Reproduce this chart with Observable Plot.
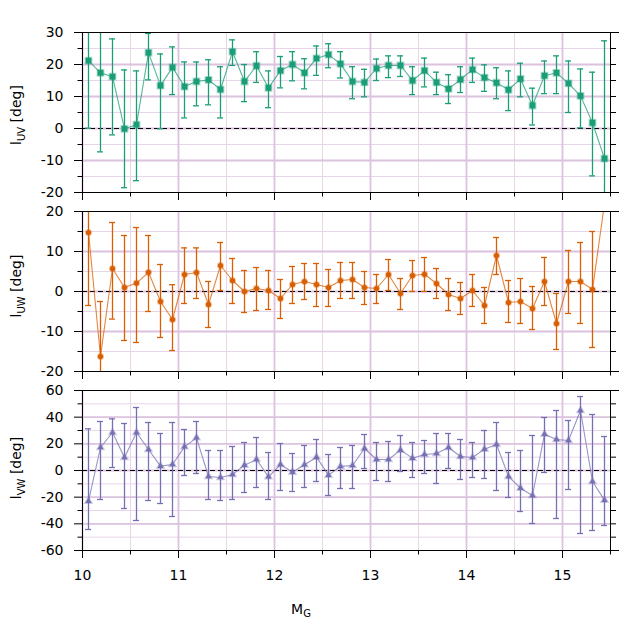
<!DOCTYPE html>
<html><head><meta charset="utf-8">
<script src="https://cdn.jsdelivr.net/npm/d3@7"></script>
<script src="https://cdn.jsdelivr.net/npm/@observablehq/plot@0.6"></script>
<style>
body{margin:0;background:#fff;}
#chart{width:640px;height:640px;position:relative;font-family:"DejaVu Sans";}
#chart svg{display:block;}
</style></head><body><div id="chart"></div>
<script>
const mag = [10.0625,10.1875,10.3125,10.4375,10.5625,10.6875,10.8125,10.9375,11.0625,11.1875,11.3125,11.4375,11.5625,11.6875,11.8125,11.9375,12.0625,12.1875,12.3125,12.4375,12.5625,12.6875,12.8125,12.9375,13.0625,13.1875,13.3125,13.4375,13.5625,13.6875,13.8125,13.9375,14.0625,14.1875,14.3125,14.4375,14.5625,14.6875,14.8125,14.9375,15.0625,15.1875,15.3125,15.4375];

const uvVal = [21.2,17.4,16.2,-0.1,1.2,23.7,13.4,19.1,13.1,14.7,15.2,12.2,24.0,14.7,19.6,12.7,18.1,20.0,17.4,21.9,23.1,20.2,14.7,14.4,18.75,19.7,19.7,15.0,18.1,14.4,12.4,15.3,18.4,15.9,14.3,12.1,15.5,7.2,16.5,17.4,14.1,10.2,1.8,-9.4];
const uvLo  = [0.1,-7.3,-2.0,-18.5,-16.3,15.2,-0.1,10.6,3.3,7.1,7.4,3.3,19.7,8.4,14.4,6.5,12.7,14.9,12.4,16.6,19.0,15.8,9.3,9.9,15.0,15.9,16.25,10.6,13.0,10.6,7.8,11.25,14.4,11.6,9.3,5.6,9.9,1.1,10.9,10.9,5.0,0.2,-14.8,-46];
const uvHi  = [42,42,28.0,18.3,18.0,29.7,23.3,25.5,20.8,20.8,21.5,19.3,27.7,20.0,24.0,18.0,22.5,24.0,21.8,25.8,26.5,24.0,19.3,18.5,21.7,22.7,22.7,19.3,22.0,17.6,16.8,19.3,22.0,19.9,19.0,18.0,20.4,12.6,21.1,22.7,21.1,18.6,17.6,27.4];

const uwVal = [14.75,-16.25,5.75,1.0,2.1,4.8,-2.5,-7.0,4.25,4.75,-3.25,6.5,2.75,0,0.75,0.25,-1.75,1.75,2.5,1.75,1.0,2.75,3.0,1.0,0.75,4.25,-0.5,4.0,4.3,2.0,-0.75,-1.75,0.25,-3.5,9.0,-2.75,-2.5,-4.25,2.5,-8.0,2.5,2.5,0.5,22];
const uwLo  = [-3.5,-30,-6.9,-12.25,-12.75,-5.0,-11.5,-14.75,-3.0,-1.75,-9.0,0.25,-3.0,-5.25,-4.75,-4.5,-6.75,-3.0,-2.0,-3.75,-3.75,-1.75,-1.75,-3.25,-3.0,0.25,-4.5,0,0,-1.75,-4.75,-5.75,-3.75,-8.0,4.25,-7.75,-8.0,-9.5,-3.5,-14.5,-5.5,-8.0,-14.0,21];
const uwHi  = [33,-2.5,17.25,14.0,16.0,14.0,6.75,1.7,10.9,10.9,2.5,12.25,8.25,5.25,6.0,5.25,3.0,6.25,7.0,7.0,5.5,7.25,7.25,5.0,4.25,8.0,3.25,7.75,8.5,5.75,3.25,2.25,4.25,1.0,13.5,2.75,3.25,1.25,8.5,-0.5,10.25,12.25,15.0,30];

const vwVal = [-23,17.25,28.5,9.75,28.5,15.75,3.25,4.5,17.75,24.5,-4.5,-5.25,-3.0,4.0,8.25,-4.75,4.5,-1.25,4.25,10.0,-3.5,3.1,3.75,16.5,8.25,8.25,15.25,9.25,12.0,12.75,17.25,10.5,9.75,16.0,19.5,-4.5,-13.25,-18.75,27.25,23.25,22.5,45.0,-8.25,-22.25];
const vwLo  = [-44.25,-21.75,2.25,-28.5,-37.5,-22.5,-24.75,-34.5,-3.75,-2.25,-21.75,-22.5,-21.75,-16.5,-12.75,-21.75,-15.0,-15.75,-12.75,-8.25,-18.75,-13.5,-13.5,1.5,-7.5,-8.25,-0.75,-5.25,-2.25,-9.75,1.5,-6.75,-5.25,-6.0,-15.0,-20.25,-30.75,-39.75,-1.5,-36.0,-14.25,-47.25,-45.0,-41.25];
const vwHi  = [31.25,36.75,38.75,35.25,47.25,36.0,27.75,36.0,30.75,36.75,15.0,15.0,18.0,21.0,24.75,13.5,20.25,12.75,18.75,23.25,12.0,17.25,18.75,27.0,21.0,21.75,26.25,21.0,22.5,27.75,27.75,23.25,21.0,30.0,36.0,13.5,15.0,26.25,39.75,45.0,37.5,55.5,42.0,25.5];

const xMajor = [10,11,12,13,14,15];
const xMinor = [10.5,11.5,12.5,13.5,14.5,15.5];
const xDomain = [10,15.5];
const xTitle = "M", xTitleSub = "G";

const panels = [
  {sub:"UV", val:uvVal, lo:uvLo, hi:uvHi, color:"#1b9e77", symbol:"square", r:3.3,
   domain:[-20,30], major:[-20,-10,0,10,20,30], minor:[-15,-5,5,15,25],
   right:[-15,-10,-5,0,5,10,15,20,25], height:201, mt:32, mb:9, labelY:115, showX:false},
  {sub:"UW", val:uwVal, lo:uwLo, hi:uwHi, color:"#d95f02", symbol:"circle", r:2.6,
   domain:[-20,20], major:[-20,-10,0,10,20], minor:[-15,-5,5,15],
   right:[-15,-10,-5,0,5,10,15], height:179, mt:10, mb:9, labelY:85, showX:false},
  {sub:"VW", val:vwVal, lo:vwLo, hi:vwHi, color:"#7570b3", symbol:"triangle", r:2.3,
   domain:[-60,60], major:[-60,-40,-20,0,20,40,60], minor:[-50,-30,-10,10,30,50],
   right:[-50,-40,-30,-20,-10,0,10,20,30,40,50], height:260, mt:10, mb:90, labelY:88, showX:true}
];

const chart = document.getElementById("chart");
const fmt = d => String(d);
const blank = () => "";

panels.forEach(p => {
  const data = mag.map((x, i) => ({x, v: p.val[i], lo: p.lo[i], hi: p.hi[i]}));
  const gridMajor = p.major.slice(1, -1);
  const svg = Plot.plot({
    width: 640, height: p.height,
    marginLeft: 82, marginRight: 30, marginTop: p.mt, marginBottom: p.mb,
    style: {fontFamily: "DejaVu Sans", fontSize: "14px", color: "black", background: "white", overflow: "visible"},
    x: {domain: xDomain, label: null},
    y: {domain: p.domain, label: null},
    marks: [
      Plot.gridX(xMinor, {stroke: "#e6d6e8", strokeOpacity: 1, strokeWidth: 1}),
      Plot.gridY(p.minor, {stroke: "#e6d6e8", strokeOpacity: 1, strokeWidth: 1}),
      Plot.gridX(xMajor, {stroke: "#dcc2de", strokeOpacity: 1, strokeWidth: 1.8}),
      Plot.gridY(gridMajor, {stroke: "#dcc2de", strokeOpacity: 1, strokeWidth: 1.8}),
      Plot.ruleY([0], {stroke: "black", strokeWidth: 1.2, strokeDasharray: "5,3"}),
      Plot.ruleX(data, {x: "x", y1: "lo", y2: "hi", stroke: p.color, strokeWidth: 1.3, clip: true}),
      Plot.ruleY(data, {x1: d => d.x - 0.031, x2: d => d.x + 0.031, y: "lo", stroke: p.color, strokeWidth: 1.3, clip: true}),
      Plot.ruleY(data, {x1: d => d.x - 0.031, x2: d => d.x + 0.031, y: "hi", stroke: p.color, strokeWidth: 1.3, clip: true}),
      Plot.line(data, {x: "x", y: "v", stroke: p.color, strokeOpacity: 0.75, strokeWidth: 1.1, clip: true}),
      Plot.dot(data, {x: "x", y: "v", symbol: p.symbol, r: p.r, fill: p.color, stroke: p.color, strokeOpacity: 0.35, strokeWidth: 2, clip: true}),
      Plot.frame({stroke: "black", strokeWidth: 1}),
      Plot.axisY({ticks: p.major, anchor: "left", tickSize: 8, tickPadding: 11, tickFormat: fmt, fontSize: 14, label: null}),
      Plot.axisY({ticks: p.minor, anchor: "left", tickSize: 4.5, tickFormat: blank, label: null}),
      Plot.axisY({ticks: p.right, anchor: "right", tickSize: 5, tickFormat: blank, label: null}),
      Plot.axisY({ticks: [p.domain[0], p.domain[1]], anchor: "right", tickSize: 8, tickFormat: blank, label: null}),
      Plot.axisX({ticks: xMajor, anchor: "bottom", tickSize: 8, tickPadding: 12, tickFormat: p.showX ? fmt : blank, fontSize: 14, label: null}),
      Plot.axisX({ticks: xMinor, anchor: "bottom", tickSize: 4.5, tickFormat: blank, label: null})
    ]
  });
  const s = d3.select(svg);
  const t = s.append("text")
    .attr("transform", `translate(21,${p.labelY}) rotate(-90)`)
    .attr("text-anchor", "middle")
    .attr("font-family", "DejaVu Sans").attr("font-size", 14).attr("fill", "black");
  t.append("tspan").text("l");
  t.append("tspan").attr("font-size", 10).attr("dy", 4).text(p.sub);
  t.append("tspan").attr("dy", -4).text(" [deg]");
  if (p.showX) {
    const xt = s.append("text")
      .attr("x", 301).attr("y", 234)
      .attr("text-anchor", "middle")
      .attr("font-family", "DejaVu Sans").attr("font-size", 14).attr("fill", "black");
    xt.append("tspan").text(xTitle);
    xt.append("tspan").attr("font-size", 10).attr("dy", 3).text(xTitleSub);
  }
  chart.appendChild(svg);
});
</script></body></html>
